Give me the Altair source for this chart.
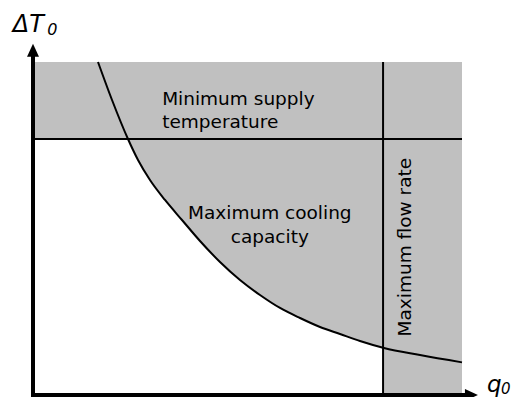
import altair as alt
import pandas as pd

# ---- data (abstract units: q0 and dT0 from 0 to 100) ----
Q_CURVE = [15.15, 18.42, 22.14, 24.48, 27.27, 30.77, 34.73, 38.93, 43.59, 48.25,
           52.91, 57.58, 62.24, 66.90, 71.56, 76.22, 81.82, 90.21, 100.0]
T_CURVE = [100.0, 88.59, 76.88, 70.57, 64.56, 58.56, 52.55, 46.25, 39.94, 34.53,
           30.03, 26.13, 23.12, 20.42, 18.32, 16.22, 14.11, 12.01, 9.8]
T_MIN_SUPPLY = 76.9   # horizontal limit line
Q_MAX_FLOW = 81.6     # vertical limit line
Q_MAX, T_MAX = 100.0, 100.0

LABELS = ["Minimum supply\ntemperature", "Maximum cooling\ncapacity", "Maximum flow rate"]

GRAY = "#c0c0c0"
FONT = "DejaVu Sans"
FS = 18.5

xs = alt.Scale(domain=[0, Q_MAX], nice=False, zero=False)
ys = alt.Scale(domain=[0, T_MAX], nice=False, zero=False)


def X(f):
    return alt.X(f, type="quantitative", scale=xs, axis=None)


def Y(f):
    return alt.Y(f, type="quantitative", scale=ys, axis=None)


curve = pd.DataFrame({"q": Q_CURVE, "T": T_CURVE, "top": [T_MAX] * len(Q_CURVE)})

bands = pd.DataFrame({
    "q": [0.0, Q_MAX_FLOW],
    "q2": [Q_MAX, Q_MAX],
    "T": [T_MIN_SUPPLY, 0.0],
    "T2": [T_MAX, T_MAX],
})

band_layer = alt.Chart(bands).mark_rect(color=GRAY).encode(
    x=X("q"), x2="q2", y=Y("T"), y2="T2")

area_layer = alt.Chart(curve).mark_area(color=GRAY, interpolate="monotone").encode(
    x=X("q"), y=Y("T"), y2="top")

curve_line = alt.Chart(curve).mark_line(color="black", strokeWidth=2,
                                         interpolate="monotone").encode(
    x=X("q"), y=Y("T"))

limits = pd.DataFrame({
    "q": [0.0, Q_MAX_FLOW],
    "q2": [Q_MAX, Q_MAX_FLOW],
    "T": [T_MIN_SUPPLY, 0.0],
    "T2": [T_MIN_SUPPLY, T_MAX],
})
limit_lines = alt.Chart(limits).mark_rule(color="black", strokeWidth=2).encode(
    x=X("q"), x2="q2", y=Y("T"), y2="T2")

axes = pd.DataFrame({
    "q": [0.0, 0.0],
    "q2": [0.0, 100.7],
    "T": [-0.6, 0.0],
    "T2": [101.5, 0.0],
})
axis_lines = alt.Chart(axes).mark_rule(color="black", strokeWidth=4,
                                        strokeCap="square").encode(
    x=X("q"), x2="q2", y=Y("T"), y2="T2")

up_head = alt.Chart(pd.DataFrame({"q": [0.0], "T": [103.5]})).mark_point(
    shape="M0,-1L0.92,1L-0.92,1Z", size=169, filled=True, color="black",
    opacity=1, strokeWidth=0).encode(x=X("q"), y=Y("T"))

right_head = alt.Chart(pd.DataFrame({"q": [102.2], "T": [0.0]})).mark_point(
    shape="M1,0L-1,-0.92L-1,0.92Z", size=169, filled=True, color="black",
    opacity=1, strokeWidth=0).encode(x=X("q"), y=Y("T"))

txt1 = alt.Chart(pd.DataFrame({"q": [30.1], "T": [87.1], "t": [LABELS[0]]})).mark_text(
    font=FONT, fontSize=FS, align="left", baseline="alphabetic", lineBreak="\n",
    lineHeight=23, color="black").encode(x=X("q"), y=Y("T"), text="t")

txt2 = alt.Chart(pd.DataFrame({"q": [55.2], "T": [52.9], "t": [LABELS[1]]})).mark_text(
    font=FONT, fontSize=FS, align="center", baseline="alphabetic", lineBreak="\n",
    lineHeight=24, color="black").encode(x=X("q"), y=Y("T"), text="t")

txt3 = alt.Chart(pd.DataFrame({"q": [86.7], "T": [44.4], "t": [LABELS[2]]})).mark_text(
    font=FONT, fontSize=FS, align="center", baseline="middle", angle=270,
    color="black").encode(x=X("q"), y=Y("T"), text="t")

dt_main = alt.Chart(pd.DataFrame({"q": [-4.7], "T": [109.0], "t": ["ΔT"]})).mark_text(
    font=FONT, fontSize=24, fontStyle="italic", align="left", baseline="alphabetic",
    color="black").encode(x=X("q"), y=Y("T"), text="t")
dt_sub = alt.Chart(pd.DataFrame({"q": [3.3], "T": [108.1], "t": ["0"]})).mark_text(
    font=FONT, fontSize=16, fontStyle="italic", align="left", baseline="alphabetic",
    color="black").encode(x=X("q"), y=Y("T"), text="t")

q_main = alt.Chart(pd.DataFrame({"q": [105.8], "T": [0.9], "t": ["q"]})).mark_text(
    font=FONT, fontSize=23, fontStyle="italic", align="left", baseline="alphabetic",
    color="black").encode(x=X("q"), y=Y("T"), text="t")
q_sub = alt.Chart(pd.DataFrame({"q": [109.1], "T": [0.3], "t": ["0"]})).mark_text(
    font=FONT, fontSize=15, fontStyle="italic", align="left", baseline="alphabetic",
    color="black").encode(x=X("q"), y=Y("T"), text="t")

chart = alt.layer(
    band_layer, area_layer, curve_line, limit_lines, axis_lines, up_head, right_head,
    txt1, txt2, txt3, dt_main, dt_sub, q_main, q_sub,
).properties(
    width=429, height=333,
    padding={"left": 25, "top": 54, "right": 50, "bottom": 2},
    autosize=alt.AutoSizeParams(type="none"),
    background="white",
).configure_view(stroke=None)

chart.save("out.html", embed_options={"renderer": "svg", "actions": False})
